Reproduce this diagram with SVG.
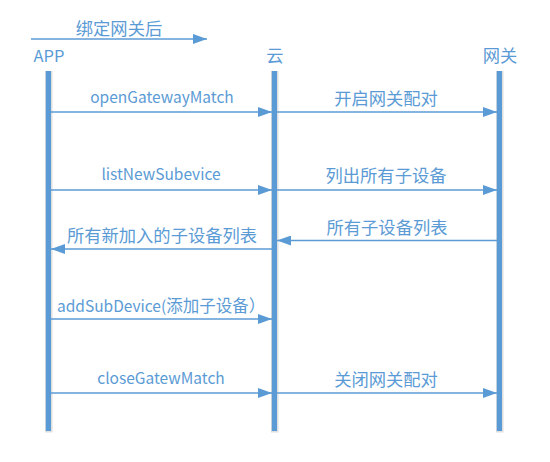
<svg xmlns="http://www.w3.org/2000/svg" width="550" height="462" viewBox="0 0 550 462">
<style>
text{font-family:"Noto Sans CJK SC","Noto Sans",sans-serif;font-size:17.3px;fill:#5b9bd5;text-anchor:middle}
text.lat{font-size:15.5px}
.ln{stroke:#5b9bd5;stroke-width:1.6;fill:none}
.life{fill:#5b9bd5}
.sh{fill:#c9c9c9;opacity:0.6}
</style>
<defs>
<marker id="ah" viewBox="0 0 14 10" refX="14" refY="5" markerWidth="14" markerHeight="10" markerUnits="userSpaceOnUse" orient="auto">
<path d="M0,0 L14,5 L0,10 Z" fill="#5b9bd5"/>
</marker>
</defs>
<rect width="550" height="462" fill="#fff"/>
<g id="app">
<rect class="sh" x="45" y="71" width="7.5" height="361.5"/>
<rect class="life" x="45.8" y="71" width="5.2" height="360"/>
<text class="lat" x="49" y="62" style="font-size:16.5px">APP</text>
</g>
<g id="cloud">
<rect class="sh" x="271" y="71" width="7.5" height="361.5"/>
<rect class="life" x="271.8" y="71" width="5.2" height="360"/>
<text x="275" y="62">云</text>
</g>
<g id="gateway">
<rect class="sh" x="496" y="71" width="7.5" height="361.5"/>
<rect class="life" x="496.8" y="71" width="5.2" height="360"/>
<text x="500" y="62">网关</text>
</g>
<g id="connectors">
<line class="ln" x1="31" y1="39" x2="207" y2="39" marker-end="url(#ah)"/>
<line class="ln" x1="51" y1="112" x2="272" y2="112" marker-end="url(#ah)"/>
<line class="ln" x1="277" y1="112" x2="497" y2="112" marker-end="url(#ah)"/>
<line class="ln" x1="51" y1="190" x2="272" y2="190" marker-end="url(#ah)"/>
<line class="ln" x1="277" y1="190" x2="497" y2="190" marker-end="url(#ah)"/>
<line class="ln" x1="497" y1="240.5" x2="277" y2="240.5" marker-end="url(#ah)"/>
<line class="ln" x1="272" y1="249" x2="51" y2="249" marker-end="url(#ah)"/>
<line class="ln" x1="51" y1="319" x2="272" y2="319" marker-end="url(#ah)"/>
<line class="ln" x1="51" y1="393" x2="272" y2="393" marker-end="url(#ah)"/>
<line class="ln" x1="277" y1="393" x2="497" y2="393" marker-end="url(#ah)"/>
<text x="119" y="35">绑定网关后</text>
<text class="lat" x="162" y="103">openGatewayMatch</text>
<text x="386" y="104.5">开启网关配对</text>
<text class="lat" x="161" y="180">listNewSubevice</text>
<text x="386" y="182">列出所有子设备</text>
<text x="387" y="233.5">所有子设备列表</text>
<text x="162" y="242">所有新加入的子设备列表</text>
<text x="57" y="312" style="text-anchor:start"><tspan style="font-size:15.5px">addSubDevice(</tspan><tspan style="font-size:16.5px">添加子设备）</tspan></text>
<text class="lat" x="161" y="384">closeGatewMatch</text>
<text x="386" y="386">关闭网关配对</text>
</g>
</svg>
